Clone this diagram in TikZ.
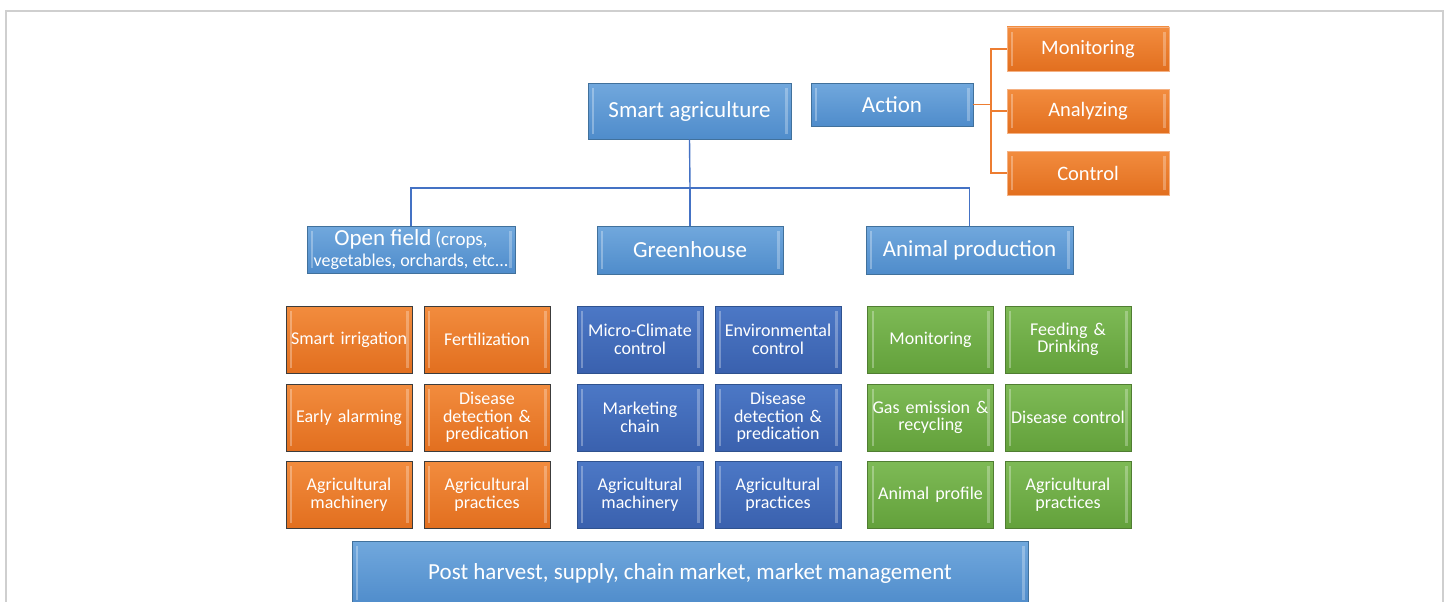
\documentclass[tikz,border=0pt]{standalone}
\usepackage{fontspec}
\setmainfont{Carlito}
\begin{document}
\begin{tikzpicture}[x=1pt,y=-1pt,
  bevel/.style={path picture={
    \fill[white,opacity=0.30] ([xshift=4pt,yshift=-5pt]path picture bounding box.north west) rectangle ([xshift=6pt,yshift=5pt]path picture bounding box.south west);
    \fill[white,opacity=0.28] ([xshift=-6.5pt,yshift=-5pt]path picture bounding box.north east) rectangle ([xshift=-3.5pt,yshift=5pt]path picture bounding box.south east);
  }},
  box/.style={rectangle,bevel,inner sep=1pt,align=center,text=white,line width=0.8pt},
  lblue/.style={box,draw=lbbord,top color=lbtop,bottom color=lbbot},
  dblue/.style={box,draw=dbbord,top color=dbtop,bottom color=dbbot},
  orng/.style={box,draw=orbord,top color=ortop,bottom color=orbot},
  orngd/.style={orng,draw=celledge},
  grn/.style={box,draw=gnbord,top color=gntop,bottom color=gnbot},
  cell/.style={minimum width=126pt,minimum height=67pt,text width=124pt,font=\fontsize{18}{17.5}\selectfont},
  head/.style={font=\fontsize{23}{20}\selectfont},
  bline/.style={draw=treeblue,line width=1.4pt},
  oline/.style={draw=treeorange,line width=1.4pt}
]
\definecolor{lbtop}{HTML}{71A8DD}
\definecolor{lbbot}{HTML}{4F8CCB}
\definecolor{lbbord}{HTML}{41719C}
\definecolor{dbtop}{HTML}{4C78C6}
\definecolor{dbbot}{HTML}{3A61AE}
\definecolor{dbbord}{HTML}{2F528F}
\definecolor{ortop}{HTML}{F28C3E}
\definecolor{orbot}{HTML}{E26F1F}
\definecolor{orbord}{HTML}{F4B183}
\definecolor{celledge}{HTML}{3C3C3C}
\definecolor{gntop}{HTML}{7EBA56}
\definecolor{gnbot}{HTML}{63A13B}
\definecolor{gnbord}{HTML}{507E32}
\definecolor{treeblue}{HTML}{4472C4}
\definecolor{treeorange}{HTML}{ED7D31}
\definecolor{frame}{HTML}{CFCFCF}

\useasboundingbox (0,0) rectangle (1451,602);

% outer frame
\draw[frame,line width=1.5pt] (6,604) -- (6,11) -- (1443,11) -- (1443,604);

% top level
\node[lblue,head,minimum width=203pt,minimum height=56pt] (sa) at (689.5,111) {Smart agriculture};
\node[lblue,font=\fontsize{23}{20}\selectfont,minimum width=162pt,minimum height=43pt] (act) at (892,104.5) {Action};

% action branches
\node[orng,font=\fontsize{20.5}{20}\selectfont,minimum width=162pt,minimum height=44pt] (mon) at (1088,49) {Monitoring};
\node[orng,font=\fontsize{20.5}{20}\selectfont,minimum width=162pt,minimum height=44pt] (ana) at (1088,111) {Analyzing};
\node[orng,font=\fontsize{20.5}{20}\selectfont,minimum width=162pt,minimum height=44pt] (ctl) at (1088,173) {Control};
\coordinate (ob) at (991,104.5);
\draw[oline] (act.east) -- (ob);
\draw[oline] (ob) |- (mon.west);
\draw[oline] (ob) |- (ana.west);
\draw[oline] (ob) |- (ctl.west);

% production systems
\node[lblue,minimum width=208pt,minimum height=47pt,font=\fontsize{18}{21}\selectfont] (of) at (411,249.5)
  {{\fontsize{23}{21}\selectfont Open field} {\fontsize{19}{21}\selectfont (crops,}\\
   vegetables, orchards, etc...};
\node[lblue,head,minimum width=186pt,minimum height=48pt] (gh) at (690,250) {Greenhouse};
\node[lblue,head,minimum width=207pt,minimum height=48pt] (ap) at (969.5,250) {Animal production};

\coordinate (bus) at (690,188);
\draw[bline] (sa.south) -- (bus);
\draw[bline] (of.north) |- (bus) -| (ap.north);
\draw[bline] (bus) -- (gh.north);

% open field cells
\node[orngd,cell] (o11) at (349,339.5) {Smart irrigation};
\node[orngd,cell] (o12) at (487,339.5) {Fertilization};
\node[orngd,cell] (o21) at (349,417.5) {Early alarming};
\node[orngd,cell] (o22) at (487,417.5) {Disease\\detection \&\\predication};
\node[orngd,cell] (o31) at (349,494.5) {Agricultural\\machinery};
\node[orngd,cell] (o32) at (487,494.5) {Agricultural\\practices};

% greenhouse cells
\node[dblue,cell] (g11) at (640,339.5) {Micro-Climate\\control};
\node[dblue,cell] (g12) at (778,339.5) {Environmental\\control};
\node[dblue,cell] (g21) at (640,417.5) {Marketing\\chain};
\node[dblue,cell] (g22) at (778,417.5) {Disease\\detection \&\\predication};
\node[dblue,cell] (g31) at (640,494.5) {Agricultural\\machinery};
\node[dblue,cell] (g32) at (778,494.5) {Agricultural\\practices};

% animal production cells
\node[grn,cell] (a11) at (930.5,339.5) {Monitoring};
\node[grn,cell] (a12) at (1068,339.5) {Feeding \&\\Drinking};
\node[grn,cell] (a21) at (930.5,417.5) {Gas emission \&\\recycling};
\node[grn,cell] (a22) at (1068,417.5) {Disease control};
\node[grn,cell] (a31) at (930.5,494.5) {Animal profile};
\node[grn,cell] (a32) at (1068,494.5) {Agricultural\\practices};

% post harvest bar
\node[lblue,font=\fontsize{23}{20}\selectfont,minimum width=676pt,minimum height=64pt] (ph) at (690,573)
  {Post harvest, supply, chain market, market management};
\end{tikzpicture}
\end{document}
